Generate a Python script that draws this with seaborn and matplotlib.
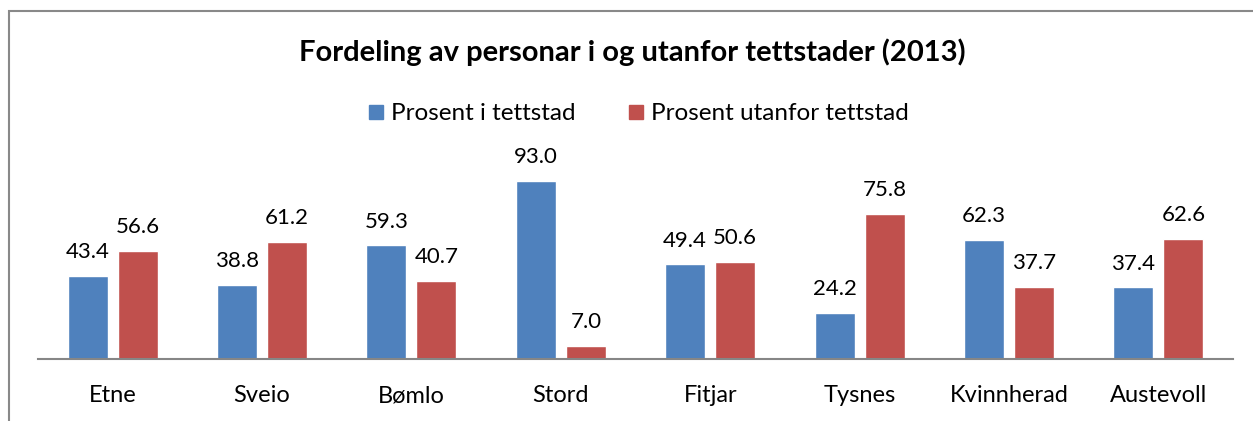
import pandas as pd
import matplotlib.pyplot as plt
import seaborn as sns
from matplotlib.patches import Rectangle

kommunar = ['Etne', 'Sveio', 'Bømlo', 'Stord', 'Fitjar', 'Tysnes', 'Kvinnherad', 'Austevoll']
i_tettstad = [43.4, 38.8, 59.3, 93.0, 49.4, 24.2, 62.3, 37.4]
utanfor_tettstad = [56.6, 61.2, 40.7, 7.0, 50.6, 75.8, 37.7, 62.6]
serier = ['Prosent i tettstad', 'Prosent utanfor tettstad']

# long format for seaborn
df = pd.DataFrame({
    'Kommune': kommunar * 2,
    'Prosent': i_tettstad + utanfor_tettstad,
    'Serie': [serier[0]] * len(kommunar) + [serier[1]] * len(kommunar),
})

sns.set_style('white')
plt.rcParams['font.family'] = ['Lato', 'DejaVu Sans']
plt.rcParams['text.color'] = 'black'
plt.rcParams['xtick.color'] = 'black'
plt.rcParams['xtick.labelcolor'] = 'black'

fig = plt.figure(figsize=(12.53, 4.21), dpi=100)
ax = fig.add_axes([38 / 1253, 62 / 421, 1195 / 1253, 191.4 / 421])

sns.barplot(data=df, x='Kommune', y='Prosent', hue='Serie', ax=ax,
            palette=['#4F81BD', '#C0504D'], width=0.67, gap=0.2,
            saturation=1, legend=False)

for c in ax.containers:
    ax.bar_label(c, fmt='%.1f', padding=10, fontsize=16, color='black')

ax.set_ylim(0, 100)
ax.set_xlim(-0.5, len(kommunar) - 0.5)
ax.set_xlabel('')
ax.set_ylabel('')
ax.set_yticks([])
ax.tick_params(axis='x', length=0, pad=19, labelsize=17, labelcolor='black')
for s in ['top', 'right', 'left']:
    ax.spines[s].set_visible(False)
ax.spines['bottom'].set_color('#868686')
ax.spines['bottom'].set_linewidth(1.5)

fig.text(0.505, 1 - 52 / 421, 'Fordeling av personar i og utanfor tettstader (2013)',
         ha='center', va='center', fontsize=21, fontweight='bold', color='black')

handles = [Rectangle((0, 0), 1, 1, color='#4F81BD'), Rectangle((0, 0), 1, 1, color='#C0504D')]
fig.legend(handles, serier, loc='center', bbox_to_anchor=(0.51, 1 - 114 / 421), ncol=2,
           frameon=False, fontsize=17.5, handlelength=0.55, handleheight=0.55,
           handletextpad=0.35, columnspacing=2.2, labelcolor='black')

fig.patches.append(Rectangle((9 / 1253, -0.1), 1.2, 1.1 - 11 / 421, transform=fig.transFigure,
                             fill=False, edgecolor='#898989', linewidth=1.5, figure=fig))

fig.savefig('out.png', dpi=100)
